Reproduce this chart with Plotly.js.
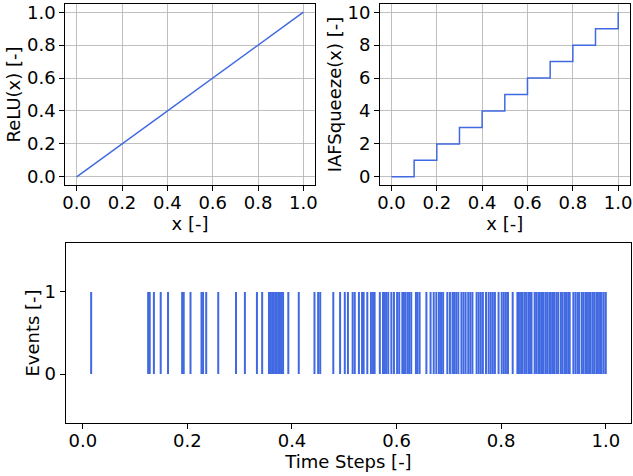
<!DOCTYPE html>
<html>
<head>
<meta charset="utf-8">
<script src="https://cdn.plot.ly/plotly-3.0.1.min.js"></script>
<style>
html,body{margin:0;padding:0;background:#fff;}
#chart{width:633px;height:476px;}
</style>
</head>
<body>
<div id="chart"></div>
<script>
// ---- data ----
var reluX = [0, 1];
var reluY = [0, 1];

var stepX = [0, 0.1, 0.2, 0.3, 0.4, 0.5, 0.6, 0.7, 0.8, 0.9, 1.0];
var stepY = [0, 1, 2, 3, 4, 5, 6, 7, 8, 9, 10];

var eventTimes = [
  0.016, 0.125, 0.128, 0.136, 0.149, 0.163, 0.190, 0.193, 0.206, 0.227, 0.230, 0.236,
  0.259, 0.293, 0.310, 0.333, 0.343,
  0.356, 0.359, 0.362, 0.365, 0.368, 0.371, 0.374, 0.377, 0.380, 0.383,
  0.393, 0.413, 0.443, 0.450, 0.454, 0.479, 0.492, 0.501, 0.507,
  0.516, 0.520, 0.528, 0.534, 0.537, 0.544, 0.551, 0.555, 0.558, 0.568,
  0.574, 0.577, 0.580, 0.584, 0.590, 0.595, 0.601, 0.605,
  0.611, 0.614, 0.617, 0.621, 0.624, 0.628, 0.637, 0.640, 0.644,
  0.657, 0.665, 0.671, 0.676, 0.681, 0.685, 0.689, 0.697, 0.702,
  0.707, 0.710, 0.714, 0.718, 0.724, 0.728, 0.732, 0.737, 0.741, 0.745,
  0.753, 0.757, 0.761, 0.765, 0.771, 0.776, 0.780, 0.784, 0.788, 0.795,
  0.801, 0.805, 0.809, 0.813, 0.822,
  0.831, 0.834, 0.838, 0.841, 0.845, 0.848, 0.852, 0.855, 0.858,
  0.864, 0.867, 0.871, 0.874, 0.878, 0.881, 0.885, 0.888, 0.892, 0.895, 0.899, 0.902, 0.906, 0.909,
  0.914, 0.917, 0.921, 0.924, 0.928, 0.931, 0.938, 0.942, 0.946, 0.949,
  0.954, 0.957, 0.961, 0.964, 0.968, 0.971, 0.975, 0.978, 0.982, 0.985, 0.989, 0.992, 0.996, 1.000
];
var eventLow = 0;
var eventHigh = 1;

var xTicks = [0, 0.2, 0.4, 0.6, 0.8, 1.0];
var reluTicks = [0, 0.2, 0.4, 0.6, 0.8, 1.0];
var iafTicks = [0, 2, 4, 6, 8, 10];
var eventTicks = [0, 1];

// ---- build event segments ----
var evX = [], evY = [];
eventTimes.forEach(function (t) {
  evX.push(t, t, null);
  evY.push(eventLow, eventHigh, null);
});

var blue = '#4169e1';
var FONT = 'DejaVu Sans, Liberation Sans, sans-serif';

var traces = [
  {x: reluX, y: reluY, type: 'scatter', mode: 'lines', xaxis: 'x', yaxis: 'y',
   line: {color: blue, width: 1.5}, hoverinfo: 'skip'},
  {x: stepX, y: stepY, type: 'scatter', mode: 'lines', xaxis: 'x2', yaxis: 'y2',
   line: {color: blue, width: 1.5, shape: 'hv'}, hoverinfo: 'skip'},
  {x: evX, y: evY, type: 'scatter', mode: 'lines', xaxis: 'x3', yaxis: 'y3',
   line: {color: blue, width: 2}, hoverinfo: 'skip', connectgaps: false}
];

function ax(extra) {
  var base = {
    showline: true, mirror: true, linecolor: '#000', linewidth: 1,
    ticks: 'outside', ticklen: 5, tickwidth: 1, tickcolor: '#000',
    zeroline: false, showgrid: false, gridcolor: '#b0b0b0', gridwidth: 0.8,
    tickfont: {family: FONT, size: 18, color: '#000'},
    ticklabeloverflow: 'allow',
    fixedrange: true, automargin: false
  };
  for (var k in extra) base[k] = extra[k];
  return base;
}

var layout = {
  width: 633, height: 476,
  margin: {l: 0, r: 0, t: 0, b: 0},
  paper_bgcolor: '#fff', plot_bgcolor: '#fff',
  showlegend: false,
  font: {family: FONT, size: 18, color: '#000'},
  xaxis: ax({domain: [0.1032, 0.4972], anchor: 'y', range: [-0.05, 1.05],
    tickvals: xTicks, tickformat: '.1f', showgrid: true, ticklabelstandoff: -4,
    title: {text: 'x [-]', font: {family: FONT, size: 18}, standoff: 3}}),
  yaxis: ax({domain: [0.6113, 0.9916], anchor: 'x', range: [-0.05, 1.05],
    tickvals: reluTicks, tickformat: '.1f', showgrid: true,
    title: {text: 'ReLU(x) [-]', font: {family: FONT, size: 18}, standoff: 1}}),
  xaxis2: ax({domain: [0.6005, 0.9945], anchor: 'y2', range: [-0.05, 1.05],
    tickvals: xTicks, tickformat: '.1f', showgrid: true, ticklabelstandoff: -4,
    title: {text: 'x [-]', font: {family: FONT, size: 18}, standoff: 3}}),
  yaxis2: ax({domain: [0.6113, 0.9916], anchor: 'x2', range: [-0.5, 10.5],
    tickvals: iafTicks, showgrid: true,
    title: {text: 'IAFSqueeze(x) [-]', font: {family: FONT, size: 18}, standoff: 1}}),
  xaxis3: ax({domain: [0.1035, 0.9975], anchor: 'y3', range: [-0.033, 1.049],
    tickvals: xTicks, tickformat: '.1f', ticklabelstandoff: -4,
    title: {text: 'Time Steps [-]', font: {family: FONT, size: 18}, standoff: 3}}),
  yaxis3: ax({domain: [0.1107, 0.4901], anchor: 'x3', range: [-0.6, 1.6],
    tickvals: eventTicks,
    title: {text: 'Events [-]', font: {family: FONT, size: 18}, standoff: 0}})
};

Plotly.newPlot('chart', traces, layout, {displayModeBar: false, staticPlot: true});
</script>
</body>
</html>
